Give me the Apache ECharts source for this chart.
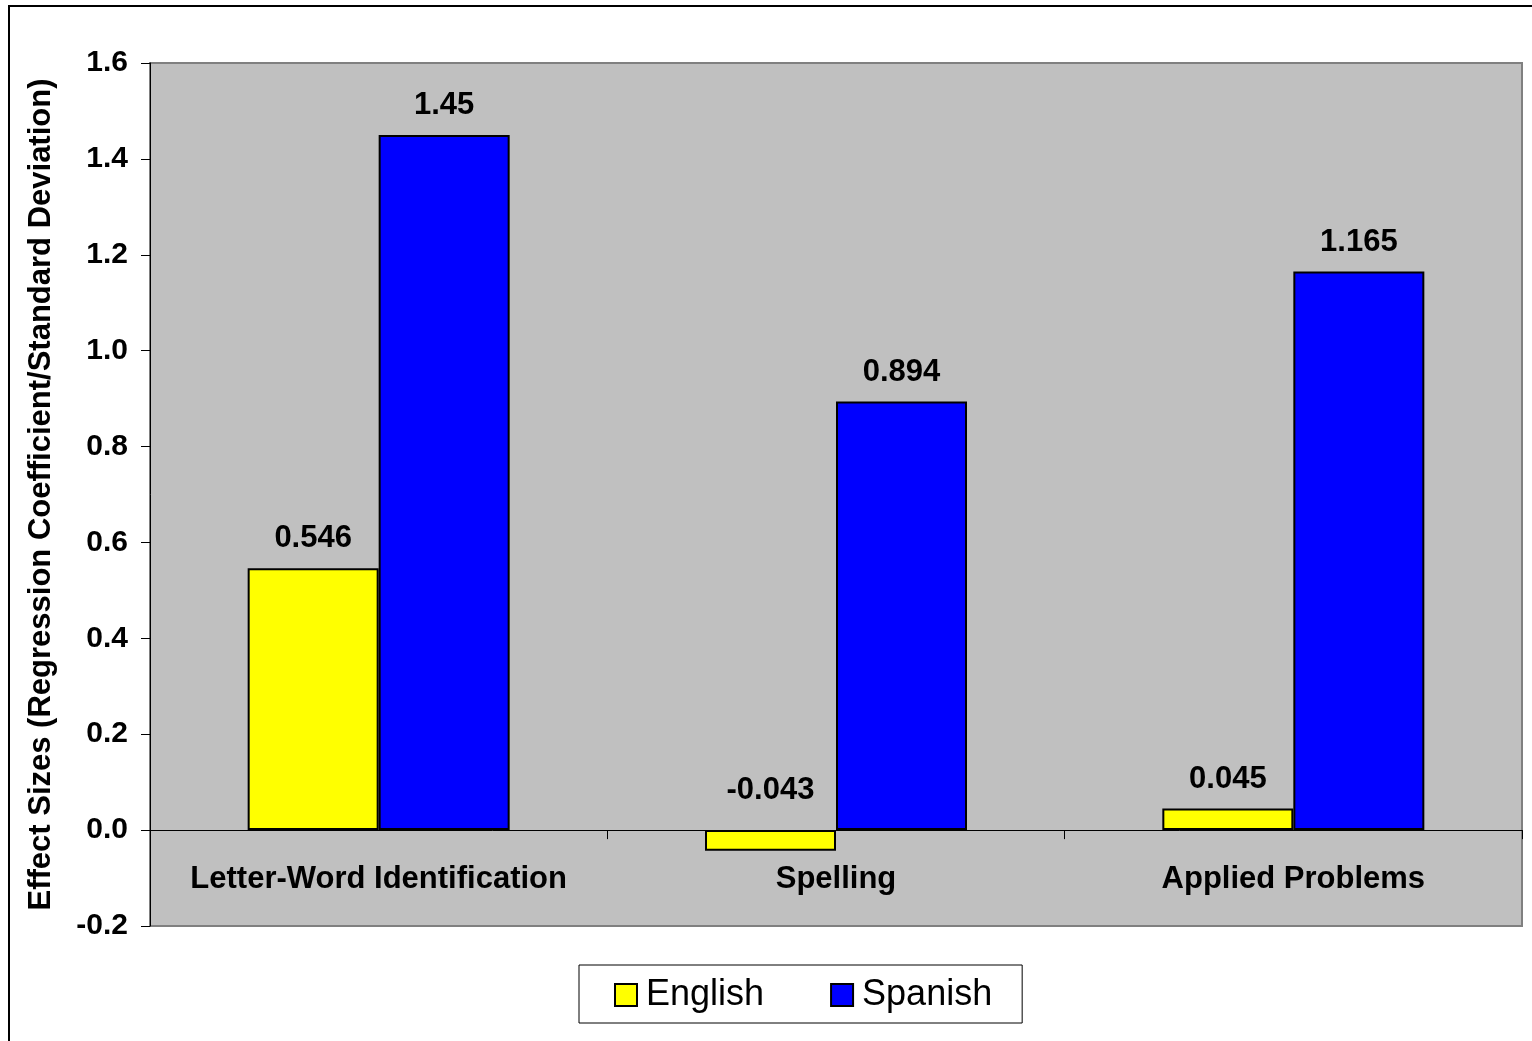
<!DOCTYPE html>
<html>
<head>
<meta charset="utf-8">
<script src="https://cdn.jsdelivr.net/npm/echarts@6/dist/echarts.min.js"></script>
<style>
html,body{margin:0;padding:0;width:1532px;height:1041px;overflow:hidden;background:#fff;}
#frame{position:absolute;left:8px;top:5px;width:1700px;height:1200px;border:2px solid #000;box-sizing:border-box;}
#chart{position:absolute;left:0;top:0;width:1532px;height:1041px;}
</style>
</head>
<body>
<div id="frame"></div>
<div id="chart"></div>
<script>
const categories = ['Letter-Word Identification', 'Spelling', 'Applied Problems'];
const englishValues = [0.546, -0.043, 0.045];
const spanishValues = [1.45, 0.894, 1.165];
const seriesNames = ['English', 'Spanish'];
const yTicks = [-0.2, 0.0, 0.2, 0.4, 0.6, 0.8, 1.0, 1.2, 1.4, 1.6];
const yTitle = 'Effect Sizes (Regression Coefficient/Standard Deviation)';

const FONT = '"Liberation Sans", Arial, Helvetica, sans-serif';
const chart = echarts.init(document.getElementById('chart'), null, {renderer: 'canvas'});

const Y_MIN = -0.2, Y_MAX = 1.6;
const GRID = {left: 150, right: 10, top: 63, bottom: 115};
const gridH = 1041 - GRID.top - GRID.bottom;
// shift the category axis up to the zero line
const zeroOffset = -gridH * (0 - Y_MIN) / (Y_MAX - Y_MIN);

function buildData(vals) {
  return vals.map(v => v < 0 ? {value: v, label: {distance: 24}} : v);
}

const labelStyle = {
  show: true, position: 'top', distance: 14,
  fontFamily: FONT, fontWeight: 'bold', fontSize: 31, color: '#000',
  formatter: p => String(p.value)
};

chart.setOption({
  animation: false,
  backgroundColor: 'transparent',
  grid: Object.assign({}, GRID, {
    show: true, backgroundColor: '#c0c0c0', borderColor: '#808080', borderWidth: 2
  }),
  legend: {
    data: seriesNames,
    left: 579, top: 965,
    orient: 'horizontal',
    padding: [12, 30, 10, 35],
    borderColor: '#000', borderWidth: 1,
    backgroundColor: '#fff',
    itemWidth: 22, itemHeight: 22, itemGap: 66,
    icon: 'rect',
    textStyle: {fontFamily: FONT, fontSize: 36, color: '#000', padding: [2, 0, 0, 4]}
  },
  xAxis: {
    type: 'category',
    data: categories,
    position: 'bottom',
    offset: zeroOffset,
    axisLine: {show: true, onZero: false, lineStyle: {color: '#000', width: 1}},
    axisTick: {show: true, interval: 0, length: 9, alignWithLabel: false, lineStyle: {color: '#000'}},
    axisLabel: {interval: 0, hideOverlap: false, fontFamily: FONT, fontWeight: 'bold', fontSize: 31, color: '#000', margin: 34},
    splitLine: {show: false}
  },
  yAxis: {
    type: 'value',
    min: Y_MIN, max: Y_MAX, interval: 0.2,
    name: yTitle,
    nameLocation: 'middle',
    nameGap: 93,
    nameRotate: 90,
    nameTextStyle: {fontFamily: FONT, fontWeight: 'bold', fontSize: 31, color: '#000'},
    axisLine: {show: true, lineStyle: {color: '#000', width: 1}},
    axisTick: {show: true, length: 9, lineStyle: {color: '#000'}},
    axisLabel: {
      fontFamily: FONT, fontWeight: 'bold', fontSize: 30, color: '#000', margin: 22,
      formatter: v => {
        const t = yTicks.find(x => Math.abs(x - v) < 1e-9);
        return (t !== undefined ? t : v).toFixed(1);
      }
    },
    splitLine: {show: false}
  },
  series: [
    {
      name: seriesNames[0], type: 'bar', data: buildData(englishValues),
      barWidth: 131, barGap: '0%',
      itemStyle: {color: '#ffff00', borderColor: '#000', borderWidth: 2},
      label: labelStyle
    },
    {
      name: seriesNames[1], type: 'bar', data: buildData(spanishValues),
      barWidth: 131, barGap: '0%',
      itemStyle: {color: '#0000ff', borderColor: '#000', borderWidth: 2},
      label: labelStyle
    }
  ]
});
</script>
</body>
</html>
